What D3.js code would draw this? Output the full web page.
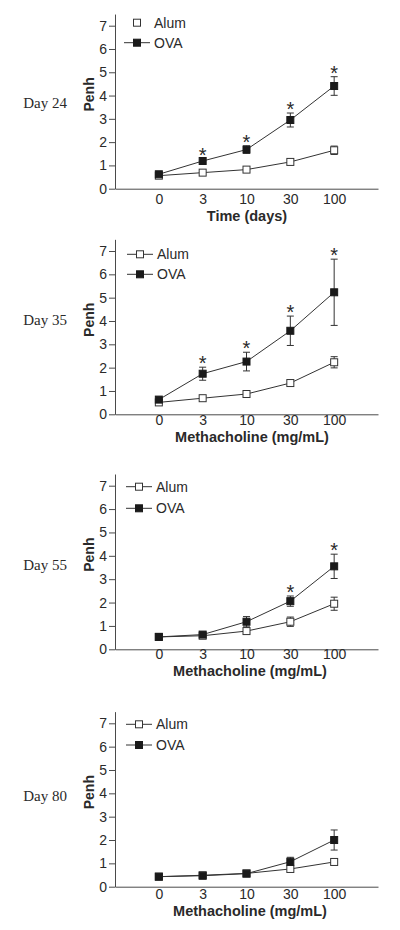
<!DOCTYPE html>
<html><head><meta charset="utf-8">
<script src="https://cdn.jsdelivr.net/npm/d3@7"></script>
<style>
body{margin:0;background:#fff}
svg{display:block;font-family:"Liberation Sans",Arial,sans-serif}
</style>
</head><body>
<svg id="c" width="400" height="930"></svg>
<script>
// ---------- data ----------
const categories = ["0", "3", "10", "30", "100"];
const yTicks = [0, 1, 2, 3, 4, 5, 6, 7];
const seriesNames = ["Alum", "OVA"];
const dayLabels = ["Day 24", "Day 35", "Day 55", "Day 80"];
const xTitles = ["Time (days)", "Methacholine (mg/mL)", "Methacholine (mg/mL)", "Methacholine (mg/mL)"];

const day24Alum    = [0.56, 0.69, 0.82, 1.15, 1.65];
const day24AlumErr = [0.04, 0.05, 0.05, 0.06, 0.18];
const day24Ova     = [0.62, 1.19, 1.68, 2.95, 4.41];
const day24OvaErr  = [0.05, 0.10, 0.16, 0.30, 0.40];
const day24Stars   = ["3", "10", "30", "100"];

const day35Alum    = [0.51, 0.69, 0.87, 1.34, 2.23];
const day35AlumErr = [0.04, 0.05, 0.06, 0.08, 0.24];
const day35Ova     = [0.63, 1.74, 2.26, 3.58, 5.23];
const day35OvaErr  = [0.05, 0.28, 0.40, 0.63, 1.42];
const day35Stars   = ["3", "10", "30", "100"];

const day55Alum    = [0.53, 0.58, 0.78, 1.18, 1.95];
const day55AlumErr = [0.04, 0.05, 0.12, 0.20, 0.28];
const day55Ova     = [0.53, 0.63, 1.18, 2.06, 3.55];
const day55OvaErr  = [0.04, 0.05, 0.22, 0.22, 0.52];
const day55Stars   = ["30", "100"];

const day80Alum    = [0.43, 0.49, 0.57, 0.76, 1.06];
const day80AlumErr = [0.03, 0.03, 0.04, 0.05, 0.06];
const day80Ova     = [0.43, 0.47, 0.56, 1.07, 2.00];
const day80OvaErr  = [0.03, 0.03, 0.04, 0.19, 0.43];
const day80Stars   = [];

const panelData = [
  {alum: day24Alum, alumErr: day24AlumErr, ova: day24Ova, ovaErr: day24OvaErr, stars: day24Stars},
  {alum: day35Alum, alumErr: day35AlumErr, ova: day35Ova, ovaErr: day35OvaErr, stars: day35Stars},
  {alum: day55Alum, alumErr: day55AlumErr, ova: day55Ova, ovaErr: day55OvaErr, stars: day55Stars},
  {alum: day80Alum, alumErr: day80AlumErr, ova: day80Ova, ovaErr: day80OvaErr, stars: day80Stars}
];

// ---------- layout (pixels) ----------
const layout = [
  {y0: 188.7, y7: 25.7,  tickPad: 5, titleBase: 31.8, titleX: 247, dayBase: 107.5, legY: [-3, 17],    legX: 137, alumLine: false},
  {y0: 414.3, y7: 251.0, tickPad: 1, titleBase: 27.8, titleX: 252, dayBase: 325,   legY: [3.3, 23.3], legX: 140, alumLine: true},
  {y0: 649.3, y7: 485.7, tickPad: 0, titleBase: 26.8, titleX: 250, dayBase: 570,   legY: [1, 22.6],   legX: 139, alumLine: true},
  {y0: 886.7, y7: 723.3, tickPad: 2, titleBase: 28.8, titleX: 250, dayBase: 800.5, legY: [1, 21.7],   legX: 139, alumLine: true}
];
const axisX = 115, axisRight = 378;
const ink = "#2a2a2a", lineCol = "#333", axisCol = "#4a4a4a";
const ms = 7;

const svg = d3.select("#c");
svg.append("rect").attr("width", 400).attr("height", 930).attr("fill", "#fff");

const x = d3.scalePoint().domain(categories).range([axisX, axisRight]).padding(1);

layout.forEach((L, i) => {
  const D = panelData[i];
  const unit = (L.y0 - L.y7) / 7;
  const y = d3.scaleLinear().domain([0, 7.5]).range([L.y0, L.y0 - 7.5 * unit]);
  const g = svg.append("g");

  // y axis
  const ya = g.append("g").attr("transform", `translate(${axisX},0)`)
    .call(d3.axisLeft(y).tickValues(yTicks).tickFormat(d3.format("d")).tickSize(6).tickPadding(2).tickSizeOuter(0));
  ya.selectAll("path,line").attr("stroke", axisCol).attr("stroke-width", 1);
  ya.selectAll("text").attr("font-size", 14).attr("fill", ink).attr("font-family", "Liberation Sans, Arial, sans-serif");

  // x axis
  const xa = g.append("g").attr("transform", `translate(0,${L.y0})`)
    .call(d3.axisBottom(x).tickSize(0).tickPadding(L.tickPad).tickSizeOuter(0));
  xa.selectAll("path").attr("stroke", axisCol).attr("stroke-width", 1);
  xa.selectAll("line").remove();
  xa.selectAll("text").attr("font-size", 14).attr("fill", ink).attr("font-family", "Liberation Sans, Arial, sans-serif");

  // axis titles
  g.append("text").attr("x", L.titleX).attr("y", L.y0 + L.titleBase)
    .attr("text-anchor", "middle").attr("font-size", 14.5).attr("font-weight", "bold").attr("fill", ink)
    .text(xTitles[i]);
  g.append("text").attr("transform", `translate(89,${y(4.05)}) rotate(-90)`)
    .attr("text-anchor", "middle").attr("dy", "0.35em").attr("font-size", 14).attr("font-weight", "bold").attr("fill", ink)
    .text("Penh");

  // day label
  g.append("text").attr("x", 67).attr("y", L.dayBase).attr("text-anchor", "end")
    .attr("font-family", "Liberation Serif, Times New Roman, serif").attr("font-size", 15).attr("fill", ink)
    .text(dayLabels[i]);

  const series = [
    {vals: D.alum, errs: D.alumErr, filled: false},
    {vals: D.ova, errs: D.ovaErr, filled: true}
  ];

  // error bars
  series.forEach(s => {
    s.vals.forEach((v, k) => {
      const cx = x(categories[k]);
      const e = s.errs[k];
      const top = y(v + e), bot = y(v - e);
      g.append("line").attr("x1", cx).attr("x2", cx).attr("y1", top).attr("y2", bot).attr("stroke", lineCol);
      if (bot - top > ms) {
        [top, bot].forEach(yy => g.append("line").attr("x1", cx - 3.5).attr("x2", cx + 3.5)
          .attr("y1", yy).attr("y2", yy).attr("stroke", lineCol));
      }
    });
  });

  // lines
  const line = d3.line().x((d, k) => x(categories[k])).y(d => y(d));
  series.forEach(s => {
    g.append("path").attr("d", line(s.vals)).attr("fill", "none").attr("stroke", lineCol).attr("stroke-width", 1);
  });

  // markers
  series.forEach(s => {
    s.vals.forEach((v, k) => {
      g.append("rect").attr("x", x(categories[k]) - ms / 2).attr("y", y(v) - ms / 2)
        .attr("width", ms).attr("height", ms)
        .attr("fill", s.filled ? "#1a1a1a" : "#fff").attr("stroke", s.filled ? "#1a1a1a" : lineCol).attr("stroke-width", 1);
    });
  });

  // significance stars
  D.stars.forEach(c => {
    const k = categories.indexOf(c);
    g.append("text").attr("x", x(c)).attr("y", y(D.ova[k] + D.ovaErr[k]) + 3)
      .attr("text-anchor", "middle").attr("font-size", 20).attr("fill", ink).text("*");
  });

  // legend
  seriesNames.forEach((name, j) => {
    const ly = L.y7 + L.legY[j];
    const filled = j === 1;
    if (filled || L.alumLine) {
      g.append("line").attr("x1", L.legX - 13).attr("x2", L.legX + 13).attr("y1", ly).attr("y2", ly)
        .attr("stroke", lineCol).attr("stroke-width", 1);
    }
    g.append("rect").attr("x", L.legX - ms / 2).attr("y", ly - ms / 2).attr("width", ms).attr("height", ms)
      .attr("fill", filled ? "#1a1a1a" : "#fff").attr("stroke", filled ? "#1a1a1a" : lineCol);
    g.append("text").attr("x", L.legX + 17).attr("y", ly).attr("dy", "0.35em")
      .attr("font-size", 14).attr("fill", ink).text(name);
  });
});
</script>
</body></html>
